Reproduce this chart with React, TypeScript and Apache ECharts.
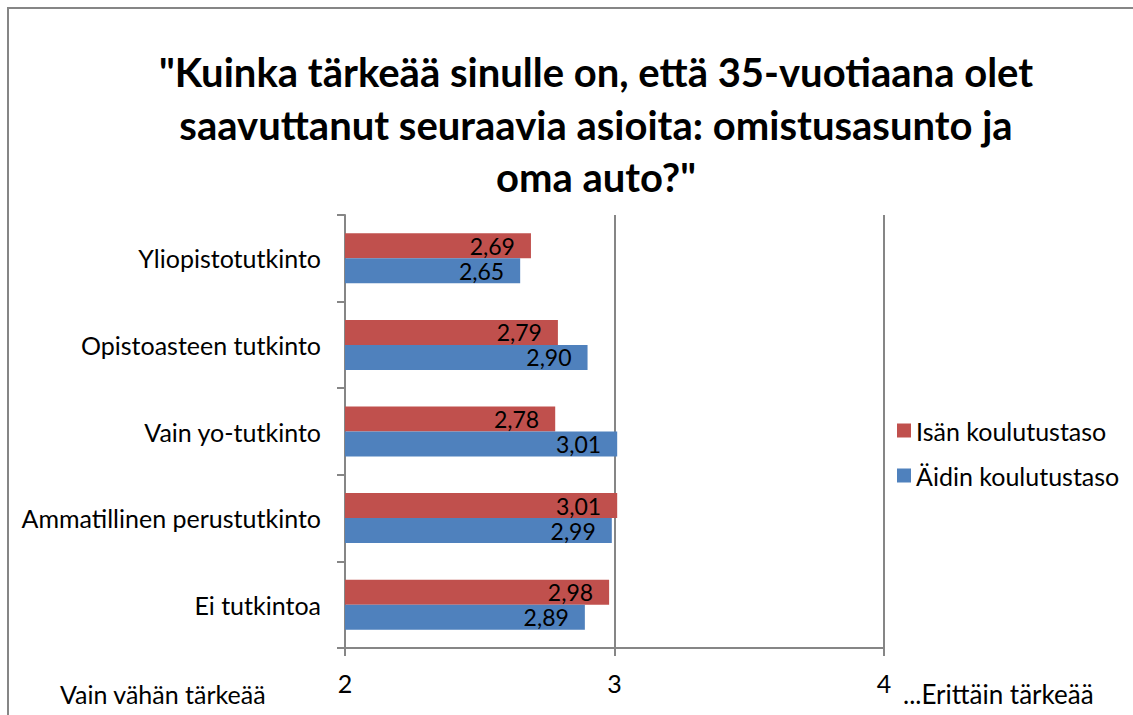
import React, { useEffect, useRef } from "react";
import * as echarts from "echarts";

const categories = [
  "Ei tutkintoa",
  "Ammatillinen perustutkinto",
  "Vain yo-tutkinto",
  "Opistoasteen tutkinto",
  "Yliopistotutkinto",
];
const isanValues = [2.98, 3.01, 2.78, 2.79, 2.69];
const aidinValues = [2.89, 2.99, 3.01, 2.9, 2.65];
const seriesNames = ["Isän koulutustaso", "Äidin koulutustaso"];
const titleText =
  '"Kuinka tärkeää sinulle on, että 35-vuotiaana olet\nsaavuttanut seuraavia asioita: omistusasunto ja\noma auto?"';
const leftAxisTitle = "Vain vähän tärkeää";
const rightAxisTitle = "...Erittäin tärkeää";

const FONT = "Lato";

export default function App() {
  const ref = useRef<HTMLDivElement>(null);
  useEffect(() => {
    if (!ref.current) return;
    const chart = echarts.init(ref.current, undefined, { renderer: "svg" });
    const label = {
      show: true,
      position: "insideRight",
      distance: 16,
      color: "#000",
      fontFamily: FONT,
      fontSize: 23,
      formatter: (p: any) => Number(p.value).toFixed(2).replace(".", ","),
    };
    chart.setOption({
      animation: false,
      backgroundColor: "#fff",
      textStyle: { fontFamily: FONT },
      title: {
        text: titleText,
        left: 596,
        textAlign: "center",
        top: 46,
        padding: 0,
        textStyle: {
          fontFamily: FONT,
          fontWeight: "bold",
          fontSize: 40,
          lineHeight: 52.5,
          color: "#000",
        },
      },
      legend: {
        orient: "vertical",
        left: 897,
        top: 418,
        padding: 0,
        itemWidth: 14,
        itemHeight: 14,
        itemGap: 20,
        data: seriesNames,
        icon: "rect",
        textStyle: {
          fontFamily: FONT,
          fontSize: 25,
          lineHeight: 25,
          color: "#000",
        },
      },
      grid: { left: 345, right: 249, top: 215, bottom: 67, containLabel: false },
      xAxis: {
        type: "value",
        min: 2,
        max: 4,
        interval: 1,
        axisLine: { show: true, lineStyle: { color: "#868686", width: 2 } },
        axisTick: { show: true, length: 8, lineStyle: { color: "#868686", width: 2 } },
        axisLabel: { fontFamily: FONT, fontSize: 25, color: "#000", margin: 22 },
        splitLine: { show: true, lineStyle: { color: "#868686", width: 2 } },
      },
      yAxis: {
        type: "category",
        data: categories,
        axisLine: { show: true, lineStyle: { color: "#868686", width: 2 } },
        axisTick: { show: true, length: 8, lineStyle: { color: "#868686", width: 2 } },
        axisLabel: { fontFamily: FONT, fontSize: 25, color: "#000", margin: 24 },
        splitLine: { show: false },
      },
      series: [
        {
          name: seriesNames[0],
          type: "bar",
          data: isanValues,
          barWidth: 25,
          barGap: "0%",
          itemStyle: { color: "#C0504D" },
          label,
        },
        {
          name: seriesNames[1],
          type: "bar",
          data: aidinValues,
          barWidth: 25,
          barGap: "0%",
          itemStyle: { color: "#4F81BD" },
          label,
        },
      ],
      graphic: [
        {
          type: "rect",
          shape: { x: 8, y: 8, width: 1200, height: 800 },
          style: { fill: "none", stroke: "#868686", lineWidth: 2 },
          silent: true,
        },
        {
          type: "text",
          x: 60,
          y: 694,
          style: {
            text: leftAxisTitle,
            fontFamily: FONT,
            fontSize: 25,
            fill: "#000",
            textVerticalAlign: "middle",
          },
        },
        {
          type: "text",
          x: 903,
          y: 694,
          style: {
            text: rightAxisTitle,
            fontFamily: FONT,
            fontSize: 26,
            fill: "#000",
            textVerticalAlign: "middle",
          },
        },
      ],
    });
    return () => chart.dispose();
  }, []);
  return (
    <div
      ref={ref}
      style={{ position: "fixed", left: 0, top: 0, width: 1133, height: 715 }}
    />
  );
}
